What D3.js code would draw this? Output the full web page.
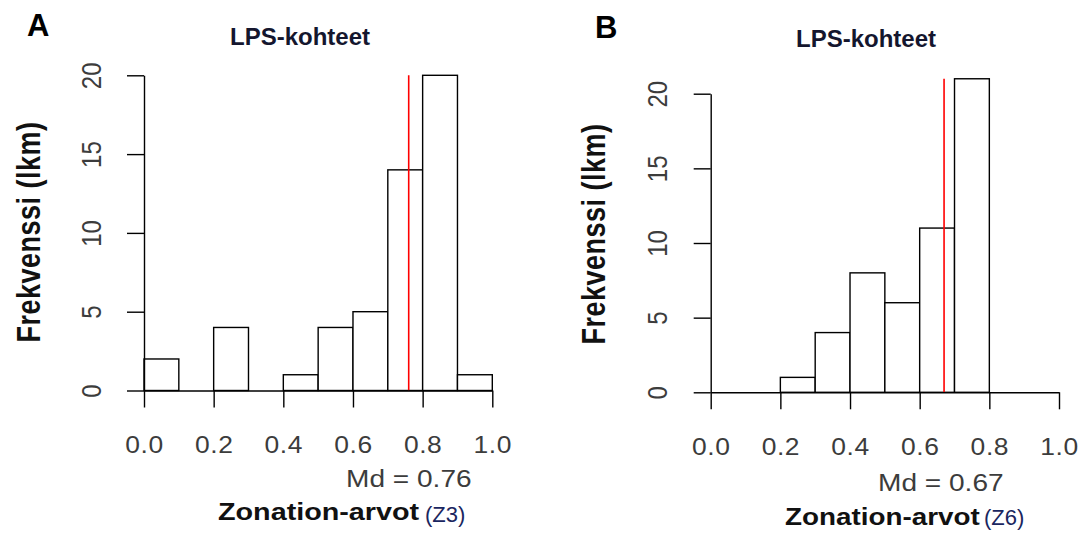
<!DOCTYPE html>
<html>
<head>
<meta charset="utf-8">
<script src="https://cdn.jsdelivr.net/npm/d3@7"></script>
<style>
  body { margin: 0; background: #fff; }
  text { font-family: "Liberation Sans", Arial, sans-serif; }
</style>
</head>
<body>
<div id="chart"></div>
<script>
// histogram data
var breaks = [0, 0.1, 0.2, 0.3, 0.4, 0.5, 0.6, 0.7, 0.8, 0.9, 1.0];
var countsA = [2, 0, 4, 0, 1, 4, 5, 14, 20, 1];
var countsB = [0, 0, 1, 4, 8, 6, 11, 21, 0, 0];
var medianA = 0.76, medianB = 0.67;
var xTicks = [0, 0.2, 0.4, 0.6, 0.8, 1.0];
var yTicks = [0, 5, 10, 15, 20];
var panelLabels = ["A", "B"];
var mainTitle = "LPS-kohteet";
var yTitle = "Frekvenssi (lkm)";
var xTitle = "Zonation-arvot";
var xSuffix = ["(Z3)", "(Z6)"];

var width = 1085, height = 534;
var sx = 1.15; // the R texts in the picture are stretched sideways

var svg = d3.select("#chart").append("svg")
	.attr("width", width)
	.attr("height", height);

// layout of the two panels (pixels)
var panels = [
	{ counts: countsA, md: medianA, x0: 144, x1: 492.3, y0: 390.5, y1: 75.3,
	  label: [27, 35.5], title: [300, 45], ytitle: [40, 232], mdPos: [346, 487],
	  xt: [218, 520], xs: [425, 522], xsc: 1.25 },
	{ counts: countsB, md: medianB, x0: 710.7, x1: 1059, y0: 392.3, y1: 93.7,
	  label: [595, 38], title: [866, 47], ytitle: [605, 234], mdPos: [878, 491],
	  xt: [785, 525], xs: [984, 525], xsc: 1.21 }
];

panels.forEach(function(p, k) {
	var x = d3.scaleLinear().domain([0, 1]).range([p.x0, p.x1]);
	var y = d3.scaleLinear().domain([0, 20]).range([p.y0, p.y1]);
	var g = svg.append("g");

	var bins = p.counts.map(function(c, i) {
		return { lo: breaks[i], hi: breaks[i + 1], n: c };
	});

	// bars
	g.selectAll("rect")
		.data(bins)
		.enter().append("rect")
			.attr("x", function(d) { return x(d.lo); })
			.attr("y", function(d) { return y(d.n); })
			.attr("width", function(d) { return x(d.hi) - x(d.lo); })
			.attr("height", function(d) { return y(0) - y(d.n); })
			.style("fill", "#fff")
			.style("stroke", "#000")
			.style("stroke-width", 1.4);

	// median line
	g.append("line")
		.attr("x1", x(p.md)).attr("x2", x(p.md))
		.attr("y1", y(0)).attr("y2", y(d3.max(p.counts)))
		.style("stroke", "#ff0000")
		.style("stroke-width", 1.6);

	// x axis
	var xa = g.append("g")
		.attr("transform", "translate(0," + p.y0 + ")")
		.call(d3.axisBottom(x).tickValues(xTicks).tickSize(17).tickSizeOuter(0)
			.tickFormat(d3.format(".1f")));
	// y axis
	var ya = g.append("g")
		.attr("transform", "translate(" + p.x0 + ",0)")
		.call(d3.axisLeft(y).tickValues(yTicks).tickSize(17).tickSizeOuter(0));

	[xa, ya].forEach(function(a) {
		a.selectAll("path, line").style("stroke", "#000").style("stroke-width", 1.4);
	});

	xa.selectAll("text")
		.attr("y", 63).attr("dy", 0)
		.attr("transform", "scale(" + sx + ",1)")
		.style("font-size", "23px")
		.style("letter-spacing", "0.5px")
		.style("fill", "#3c3c3c");

	ya.selectAll("text")
		.attr("x", 0).attr("dy", 0)
		.attr("y", -43.5 / sx)
		.attr("text-anchor", "middle")
		.attr("transform", "scale(" + sx + ",1) rotate(-90)")
		.style("font-size", "24px")
		.style("fill", "#3c3c3c");

	// panel letter
	svg.append("text")
		.attr("x", p.label[0]).attr("y", p.label[1])
		.style("font-size", "31px").style("font-weight", "bold")
		.style("fill", "#000")
		.text(panelLabels[k]);

	// title
	svg.append("text")
		.attr("x", p.title[0]).attr("y", p.title[1])
		.attr("text-anchor", "middle")
		.style("font-size", "24px").style("font-weight", "bold")
		.style("fill", "#14162e")
		.text(mainTitle);

	// y axis title
	svg.append("text")
		.attr("transform", "translate(" + p.ytitle[0] + "," + p.ytitle[1] + ") scale(1.2,1) rotate(-90)")
		.attr("text-anchor", "middle")
		.style("font-size", "27px").style("font-weight", "bold")
		.style("letter-spacing", "0.5px")
		.style("fill", "#111")
		.text(yTitle);

	// median text
	svg.append("text")
		.attr("transform", "translate(" + p.mdPos[0] + "," + p.mdPos[1] + ") scale(1.17,1)")
		.style("font-size", "24px")
		.style("fill", "#3c3c3c")
		.text("Md = " + d3.format(".2f")(p.md));

	// x axis title
	svg.append("text")
		.attr("transform", "translate(" + p.xt[0] + "," + p.xt[1] + ") scale(" + p.xsc + ",1)")
		.style("font-size", "23px").style("font-weight", "bold")
		.style("fill", "#111")
		.text(xTitle);
	svg.append("text")
		.attr("x", p.xs[0]).attr("y", p.xs[1])
		.style("font-size", "22px")
		.style("fill", "#1a2660")
		.text(xSuffix[k]);
});
</script>
</body>
</html>
